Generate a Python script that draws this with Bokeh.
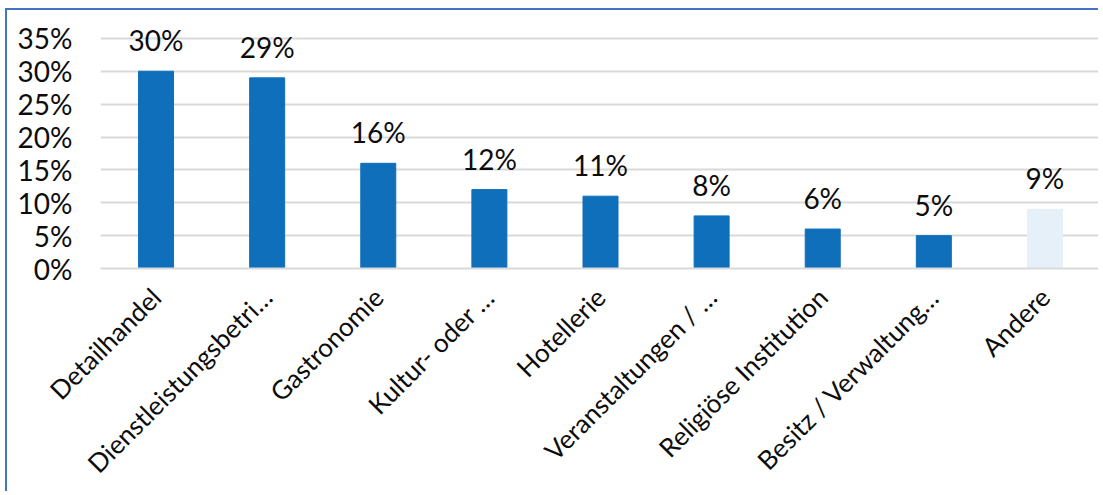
import math
from bokeh.plotting import figure
from bokeh.models import ColumnDataSource, FactorRange, Range1d, FixedTicker, PrintfTickFormatter, LabelSet
from bokeh.core.properties import value
from bokeh.embed import file_html
from bokeh.resources import INLINE

categories = ["Detailhandel", "Dienstleistungsbetri…", "Gastronomie", "Kultur- oder …",
              "Hotellerie", "Veranstaltungen / …", "Religiöse Institution",
              "Besitz / Verwaltung…", "Andere"]
values = [30, 29, 16, 12, 11, 8, 6, 5, 9]
labels = ["30%", "29%", "16%", "12%", "11%", "8%", "6%", "5%", "9%"]
colors = ["#0F6FBA"] * 8 + ["#E6F0F8"]
y_ticks = [0, 5, 10, 15, 20, 25, 30, 35]

FONT = "Lato"
FS = "28px"

src = ColumnDataSource(dict(cat=categories, val=values, lab=labels, col=colors))

p = figure(x_range=FactorRange(*categories, range_padding=0), y_range=Range1d(0, 36.96),
           width=1093, height=483, output_backend="svg", toolbar_location=None,
           min_border_left=93, min_border_right=0, min_border_top=15, min_border_bottom=223)
p.styles = {"border-left": "2px solid #4472C4", "border-top": "2px solid #4472C4",
            "margin-left": "5px", "margin-top": "8px"}
p.outline_line_color = None
p.background_fill_color = "white"
p.border_fill_color = "white"

p.vbar(x="cat", top="val", width=0.315, color="col", source=src)

lbl = LabelSet(x="cat", y="val", text="lab", source=src, text_align="center",
               text_baseline="bottom", y_offset=14, text_font=value(FONT),
               text_font_size=value(FS), text_color="#0D0D0D")
p.add_layout(lbl)

p.xgrid.grid_line_color = None
p.ygrid.ticker = FixedTicker(ticks=y_ticks)
p.ygrid.grid_line_color = "#D9D9D9"
p.ygrid.grid_line_width = 2

p.yaxis.ticker = FixedTicker(ticks=y_ticks)
p.yaxis.formatter = PrintfTickFormatter(format="%d%%")
p.yaxis.axis_line_color = None
p.yaxis.major_tick_line_color = None
p.yaxis.minor_tick_line_color = None
p.yaxis.major_label_standoff = 22
p.yaxis.major_label_text_font = FONT
p.yaxis.major_label_text_font_size = FS
p.yaxis.major_label_text_color = "#0D0D0D"

p.xaxis.axis_line_color = "#D9D9D9"
p.xaxis.axis_line_width = 2
p.xaxis.major_tick_line_color = None
p.xaxis.minor_tick_line_color = None
p.xaxis.major_label_orientation = math.pi / 4
p.xaxis.major_label_standoff = 18
p.xaxis.major_label_text_font = FONT
p.xaxis.major_label_text_font_size = "26px"
p.xaxis.major_label_text_color = "#0D0D0D"

open("out.html", "w").write(file_html(p, INLINE))
